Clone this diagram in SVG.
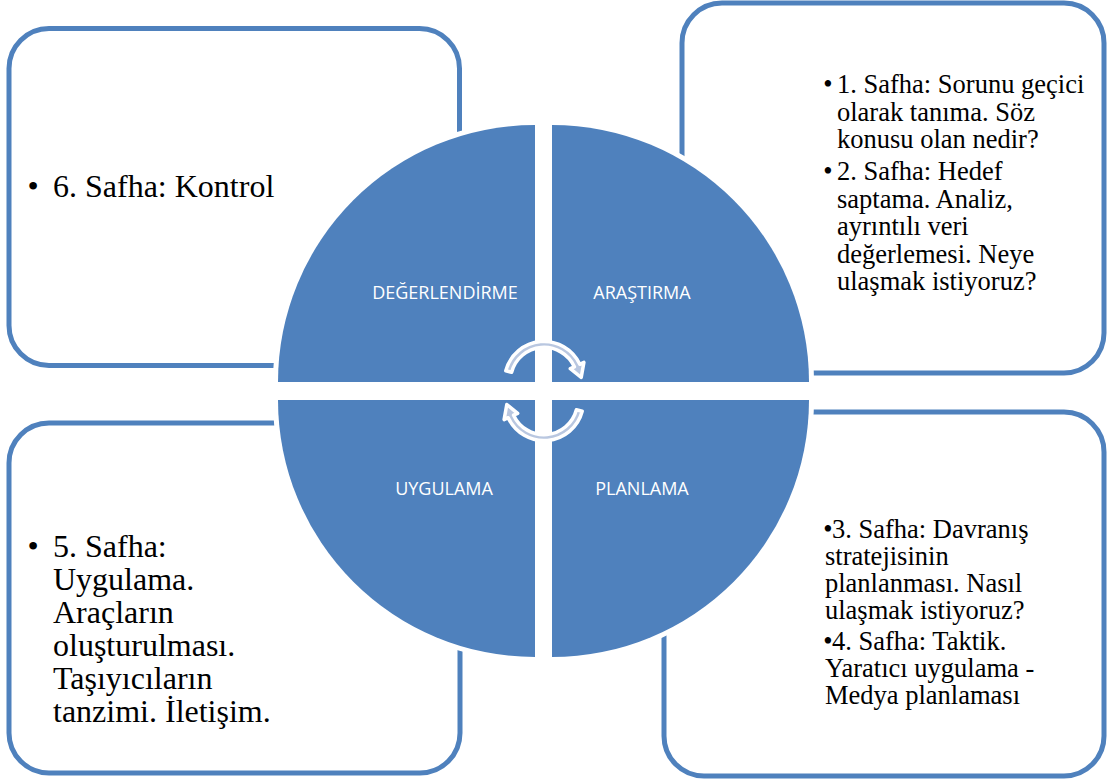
<svg xmlns="http://www.w3.org/2000/svg" width="1108" height="782" viewBox="0 0 1108 782">
<style>
.box{fill:#FFFFFF;stroke:#4F81BD;stroke-width:5}
.quad{fill:#4F81BD;stroke:#FFFFFF;stroke-width:10;paint-order:stroke}
.lbl{font-family:'Open Sans','Liberation Sans',sans-serif;font-size:18px;fill:#FFFFFF;text-anchor:middle}
.big{font-family:'Liberation Serif','Times New Roman',serif;font-size:32px;fill:#000000}
.sm{font-family:'Liberation Serif','Times New Roman',serif;font-size:26.5px;fill:#000000}
.bul{text-anchor:middle}
.arr{fill:#B9C7E0;stroke:#FFFFFF;stroke-width:3.5;stroke-linejoin:round}
</style>
<rect width="1108" height="782" fill="#FFFFFF"/>
<g id="box-kontrol">
<rect class="box" x="9" y="28.5" width="450.5" height="337" rx="40"/>
<text class="big bul" x="33" y="197">•</text>
<text class="big" x="53" y="197">6. Safha: Kontrol</text>
</g>
<g id="box-arastirma">
<rect class="box" x="682" y="3" width="422" height="370" rx="40"/>
<text class="sm bul" x="828" y="93">•</text>
<text class="sm" x="837" y="93">1. Safha: Sorunu geçici</text>
<text class="sm" x="837" y="120.5">olarak tanıma. Söz</text>
<text class="sm" x="837" y="148">konusu olan nedir?</text>
<text class="sm bul" x="828" y="180">•</text>
<text class="sm" x="837" y="180">2. Safha: Hedef</text>
<text class="sm" x="837" y="207.5">saptama. Analiz,</text>
<text class="sm" x="837" y="235">ayrıntılı veri</text>
<text class="sm" x="837" y="262.5">değerlemesi. Neye</text>
<text class="sm" x="837" y="290">ulaşmak istiyoruz?</text>
</g>
<g id="box-uygulama">
<rect class="box" x="9" y="423" width="451" height="350" rx="40"/>
<text class="big bul" x="33" y="557">•</text>
<text class="big" x="53" y="557">5. Safha:</text>
<text class="big" x="53" y="590">Uygulama.</text>
<text class="big" x="53" y="623">Araçların</text>
<text class="big" x="53" y="656">oluşturulması.</text>
<text class="big" x="53" y="689">Taşıyıcıların</text>
<text class="big" x="53" y="722">tanzimi. İletişim.</text>
</g>
<g id="box-planlama">
<rect class="box" x="664" y="412" width="440" height="364" rx="40"/>
<text class="sm bul" x="828" y="538">•</text>
<text class="sm" x="832" y="538">3. Safha: Davranış</text>
<text class="sm" x="825" y="565">stratejisinin</text>
<text class="sm" x="825" y="592">planlanması. Nasıl</text>
<text class="sm" x="825" y="619">ulaşmak istiyoruz?</text>
<text class="sm bul" x="828" y="650">•</text>
<text class="sm" x="832" y="650">4. Safha: Taktik.</text>
<text class="sm" x="825" y="677">Yaratıcı uygulama -</text>
<text class="sm" x="825" y="704">Medya planlaması</text>
</g>
<g id="quad-degerlendirme">
<path class="quad" d="M535,382 L278,382 A257,257 0 0 1 535,125 Z"/>
<text class="lbl" x="445" y="299">DEĞERLENDİRME</text>
</g>
<g id="quad-arastirma">
<path class="quad" d="M552,382 L552,125 A257,257 0 0 1 809,382 Z"/>
<text class="lbl" x="642" y="299">ARAŞTIRMA</text>
</g>
<g id="quad-uygulama">
<path class="quad" d="M535,400 L535,657 A257,257 0 0 1 278,400 Z"/>
<text class="lbl" x="444" y="495">UYGULAMA</text>
</g>
<g id="quad-planlama">
<path class="quad" d="M552,400 L809,400 A257,257 0 0 1 552,657 Z"/>
<text class="lbl" x="642" y="495">PLANLAMA</text>
</g>
<g id="connectors">
<path class="arr" d="M505.8,370.8 A39.5,39.5 0 0 1 579.8,364.3 L583.9,362.4 L581.2,377.5 L570.3,368.7 L574.4,366.8 A33.5,33.5 0 0 0 511.6,372.3 Z"/>
<path class="arr" d="M582.2,411.2 A39.5,39.5 0 0 1 508.2,417.7 L504.1,419.6 L506.8,404.5 L517.7,413.3 L513.6,415.2 A33.5,33.5 0 0 0 576.4,409.7 Z"/>
</g>
</svg>
